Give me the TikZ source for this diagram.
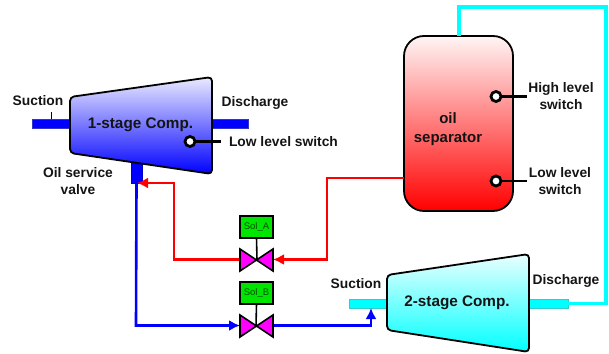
\documentclass[tikz,border=0pt]{standalone}
\usepackage{fontspec}
\setmainfont{Liberation Sans}
\usetikzlibrary{arrows.meta,calc}
\definecolor{txt}{RGB}{20,20,20}
\definecolor{puremag}{RGB}{255,0,255}
\definecolor{purecyan}{RGB}{0,255,255}
\tikzset{
  lbl/.style={font=\fontsize{13.8}{17}\selectfont\bfseries,text=txt,align=center,inner sep=0pt,outer sep=0pt},
  bigl/.style={font=\fontsize{15.3}{18}\selectfont\bfseries,text=txt,align=center,inner sep=0pt},
  comp/.style={draw=black,line width=1.8pt,rounded corners=4pt,line join=round},
  pipe/.style={rectangle,draw=#1!60!gray,fill=#1,line width=0.6pt,inner sep=0pt,outer sep=0pt},
  solbox/.style={rectangle,draw=black,fill=green!90!black,line width=1.6pt,minimum width=33pt,minimum height=22pt,inner sep=0pt,outer sep=0pt,font=\fontsize{9.5}{10}\selectfont,text=black!70!green},
  valveshape/.style={draw=black,fill=puremag,line width=1.6pt,line join=miter},
  redline/.style={draw=red,line width=2.6pt},
  blueline/.style={draw=blue,line width=2.6pt},
  tipped/.style={-{Latex[length=11pt,width=11pt]}},
  switchline/.style={draw=black,line width=2.4pt},
  sw/.style={circle,draw=black,fill=white,line width=2.8pt,minimum size=10pt,inner sep=0pt,outer sep=0pt},
}
\begin{document}
\begin{tikzpicture}[x=1pt,y=-1pt]
\useasboundingbox (0,0) rectangle (609,353);
% pipes under compressors
\node[pipe=blue,minimum width=38pt,minimum height=9pt] (suc1) at (51,123.5) {};
\node[pipe=blue,minimum width=37pt,minimum height=9pt] (dis1) at (229.5,123.5) {};
\node[rectangle,fill=blue,draw=blue!80!black,line width=0.6pt,minimum width=11pt,minimum height=21pt,inner sep=0pt,outer sep=0pt] (stub) at (136.5,173) {};
\node[pipe=purecyan,minimum width=38pt,minimum height=9pt] (suc2) at (368,303.5) {};
\node[pipe=purecyan,minimum width=39pt,minimum height=9pt] (dis2) at (548.5,303.5) {};
\coordinate (leadA) at (51,112);
\draw[black,line width=0.4pt] (leadA) -- (suc1.north);
% compressors
\path[comp,top color=blue!8!white,bottom color=blue]
  (70,97) -- (212,77) -- (212,174) -- (70,153) -- cycle;
\path[comp,top color=purecyan!8!white,bottom color=purecyan]
  (387,275) -- (529,254) -- (529,352) -- (387,330) -- cycle;
\node[bigl] (c1) at (140.5,125) {1-stage Comp.};
\node[bigl] (c2) at (457,303) {2-stage Comp.};
% separator
\node[rectangle,rounded corners=20pt,draw=black,line width=1.8pt,top color=red!4!white,bottom color=red,minimum width=109pt,minimum height=175pt,inner sep=0pt,outer sep=0pt] (sep) at (458.5,123.5) {};
\node[lbl,font=\fontsize{15}{19}\selectfont\bfseries] (septxt) at (448,129.5) {oil\\separator};
% cyan line
\coordinate (cr) at (606,303.5);
\coordinate (crt) at (606,7);
\coordinate (clt) at (459,7);
\draw[purecyan,line width=3.4pt,line join=miter] (dis2.east) -- (cr) -- (crt) -- (clt) -- (clt|-sep.north);
% solenoid valves
\node[solbox] (sa) at (256.5,227) {Sol\_A};
\node[solbox] (sb) at (256.5,293) {Sol\_B};
\coordinate (va) at (257,260);
\coordinate (vb) at (256,326);
\coordinate (val) at (240,259.5);
\coordinate (var) at (273,259.5);
\coordinate (vbl) at (240,325.5);
\coordinate (vbr) at (273,325.5);
% red lines
\coordinate (r1) at (327,178);
\coordinate (r2) at (327,259.5);
\coordinate (r3) at (174,259.5);
\coordinate (r4) at (174,183);
\coordinate (r5) at (137,183);
\draw[redline,tipped] (sep.west|-r1) -- (r1) -- (r2) -- (var);
\draw[redline,tipped] (val) -- (r3) -- (r4) -- (r5);
% blue lines
\coordinate (b1) at (136,325.5);
\coordinate (b2) at (371,325.5);
\draw[blueline,tipped] (stub.south) -- (b1) -- (vbl);
\draw[blueline,tipped] (vbr) -- (b2) -- (b2|-suc2.south);
% valves
\draw[black,line width=1.6pt] (sa.south) -- (va);
\draw[black,line width=1.6pt] (sb.south) -- (vb);
\path[valveshape] (240,249) -- (273,271) -- (273,249) -- (240,271) -- cycle;
\path[valveshape] (240,315) -- (273,337) -- (273,315) -- (240,337) -- cycle;
% switches
\node[sw] (s1) at (190,141.5) {};
\coordinate (s1e) at (221,141.5);
\draw[switchline] (s1) -- (s1e);
\node[sw] (s2) at (496,96.5) {};
\coordinate (s2e) at (527,96.5);
\draw[switchline] (s2) -- (s2e);
\node[sw] (s3) at (496,181) {};
\coordinate (s3e) at (527,181);
\draw[switchline] (s3) -- (s3e);
% labels
\node[lbl] (t1) at (38,101) {Suction};
\node[lbl] (t2) at (255,103) {Discharge};
\node[lbl,anchor=west] (t3) at (229,141.5) {Low level switch};
\node[lbl] (t4) at (78,181.5) {Oil service\\valve};
\node[lbl] (t5) at (561,96.5) {High level\\switch};
\node[lbl] (t6) at (560,181.5) {Low level\\switch};
\node[lbl] (t7) at (356,284) {Suction};
\node[lbl] (t8) at (566,281) {Discharge};
\end{tikzpicture}
\end{document}
